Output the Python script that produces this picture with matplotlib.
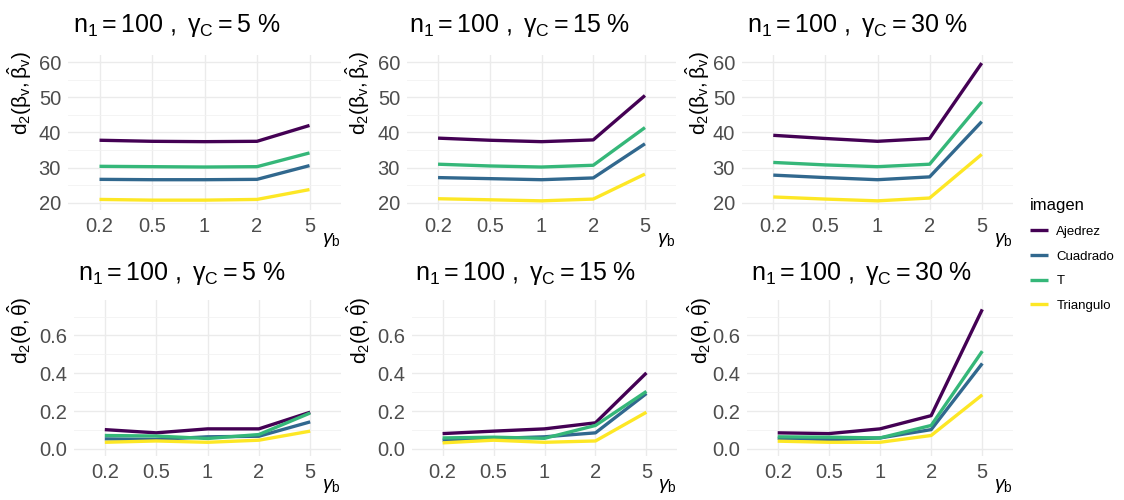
import matplotlib.pyplot as plt
from matplotlib.transforms import offset_copy

plt.rcParams['mathtext.fontset'] = 'custom'
plt.rcParams['mathtext.rm'] = 'Liberation Sans'
plt.rcParams['mathtext.it'] = 'Liberation Sans:italic'
plt.rcParams['font.family'] = ['Liberation Sans', 'DejaVu Sans']

gamma_b = ['0.2', '0.5', '1', '2', '5']
imagenes = ['Ajedrez', 'Cuadrado', 'T', 'Triangulo']
colores = ['#440154', '#31688E', '#35B779', '#FDE725']
gamma_c = ['5', '15', '30']

# d2(beta_v, beta_v gorro): filas en el orden de imagenes
beta_5 = [[37.8, 37.5, 37.4, 37.5, 42.0],
          [26.7, 26.6, 26.6, 26.7, 30.6],
          [30.4, 30.3, 30.2, 30.3, 34.2],
          [21.0, 20.8, 20.8, 21.0, 23.8]]
beta_15 = [[38.4, 37.8, 37.4, 37.9, 50.5],
           [27.2, 26.9, 26.6, 27.1, 36.8],
           [31.0, 30.5, 30.2, 30.7, 41.4],
           [21.2, 20.9, 20.6, 21.1, 28.2]]
beta_30 = [[39.2, 38.3, 37.5, 38.3, 59.7],
           [27.9, 27.2, 26.6, 27.4, 43.1],
           [31.5, 30.8, 30.3, 31.0, 48.7],
           [21.7, 21.1, 20.6, 21.4, 33.8]]

# d2(theta, theta gorro)
theta_5 = [[0.102, 0.085, 0.106, 0.106, 0.194],
           [0.053, 0.050, 0.064, 0.067, 0.143],
           [0.071, 0.068, 0.055, 0.076, 0.190],
           [0.035, 0.042, 0.035, 0.046, 0.094]]
theta_15 = [[0.081, 0.094, 0.106, 0.138, 0.402],
            [0.046, 0.055, 0.064, 0.085, 0.293],
            [0.058, 0.062, 0.056, 0.124, 0.304],
            [0.032, 0.046, 0.035, 0.042, 0.194]]
theta_30 = [[0.085, 0.081, 0.106, 0.176, 0.738],
            [0.056, 0.049, 0.058, 0.102, 0.452],
            [0.064, 0.062, 0.058, 0.124, 0.517],
            [0.041, 0.035, 0.035, 0.071, 0.286]]

W, H = 1124, 500
fig = plt.figure(figsize=(W / 100, H / 100), dpi=100)

# cajas de los paneles en pixeles (izq, der, arriba, abajo)
cajas_sup = [(68, 341, 55, 210), (407, 676, 55, 210), (742, 1013, 55, 210)]
cajas_inf = [(74, 341, 300, 456), (412, 677, 300, 456), (747, 1013, 300, 456)]
titulo_x_sup = [177, 520, 858]
titulo_x_inf = [182, 526, 862]
ylab_x_sup = [20, 358, 698]
ylab_x_inf = [20, 359, 700]


def panel(caja, datos, ylim, yticks, yminor, ylabel, titulo, tx, ty, lx, fmt):
    l, r, t, b = caja
    ax = fig.add_axes([l / W, 1 - b / H, (r - l) / W, (b - t) / H])
    x = range(len(gamma_b))
    for fila, img, col in zip(datos, imagenes, colores):
        ax.plot(x, fila, color=col, lw=2.4, label=img, solid_capstyle='butt')
    ax.set_xlim(-0.6, len(gamma_b) - 0.4)
    ax.set_ylim(*ylim)
    ax.set_xticks(list(x))
    ax.set_xticklabels(gamma_b)
    ax.set_yticks(yticks)
    ax.set_yticklabels([fmt.format(v) for v in yticks])
    ax.set_yticks(yminor, minor=True)
    ax.grid(True, which='major', color='#EBEBEB', lw=1.0)
    ax.grid(True, which='minor', axis='y', color='#F2F2F2', lw=0.6)
    ax.set_axisbelow(True)
    for s in ax.spines.values():
        s.set_visible(False)
    ax.tick_params(which='both', length=0, labelsize=14.5, labelcolor='#4D4D4D', pad=5)
    fig.text(tx / W, 1 - ty / H, titulo, fontsize=18, ha='center', va='baseline')
    fig.text(lx / W, 1 - (t - 4) / H, ylabel, fontsize=15, rotation=90, ha='center', va='top')
    trans = offset_copy(ax.transAxes, fig=fig, x=0, y=-30, units='dots')
    ax.text(1.0, 0.0, r'$\gamma_\mathrm{b}$', transform=trans,
            fontsize=14, ha='right', va='center')
    return ax


for i, (gc, datos) in enumerate(zip(gamma_c, [beta_5, beta_15, beta_30])):
    titulo = r'$\mathrm{n_1 = 100\ ,\ \gamma_C = ' + gc + r'\ \%}$'
    ax = panel(cajas_sup[i], datos, (18, 62), [20, 30, 40, 50, 60], [25, 35, 45, 55],
               r'$\mathrm{d_2(\beta_v,\hat{\beta}_v)}$', titulo,
               titulo_x_sup[i], 32, ylab_x_sup[i], '{:.0f}')

for i, (gc, datos) in enumerate(zip(gamma_c, [theta_5, theta_15, theta_30])):
    titulo = r'$\mathrm{n_1 = 100\ ,\ \gamma_C = ' + gc + r'\ \%}$'
    panel(cajas_inf[i], datos, (-0.0375, 0.7875), [0.0, 0.2, 0.4, 0.6], [0.1, 0.3, 0.5, 0.7],
          r'$\mathrm{d_2(\theta,\hat{\theta})}$', titulo,
          titulo_x_inf[i], 280, ylab_x_inf[i], '{:.1f}')

handles, labels = ax.get_legend_handles_labels()
leg = fig.legend(handles, labels, title='imagen', loc='upper left',
                 bbox_to_anchor=(1030 / W, 1 - 198 / H), frameon=False,
                 fontsize=9.5, title_fontsize=12, handlelength=1.4,
                 handletextpad=0.6, labelspacing=0.95, borderpad=0,
                 borderaxespad=0, alignment='left')

fig.savefig('out.png', dpi=100)
